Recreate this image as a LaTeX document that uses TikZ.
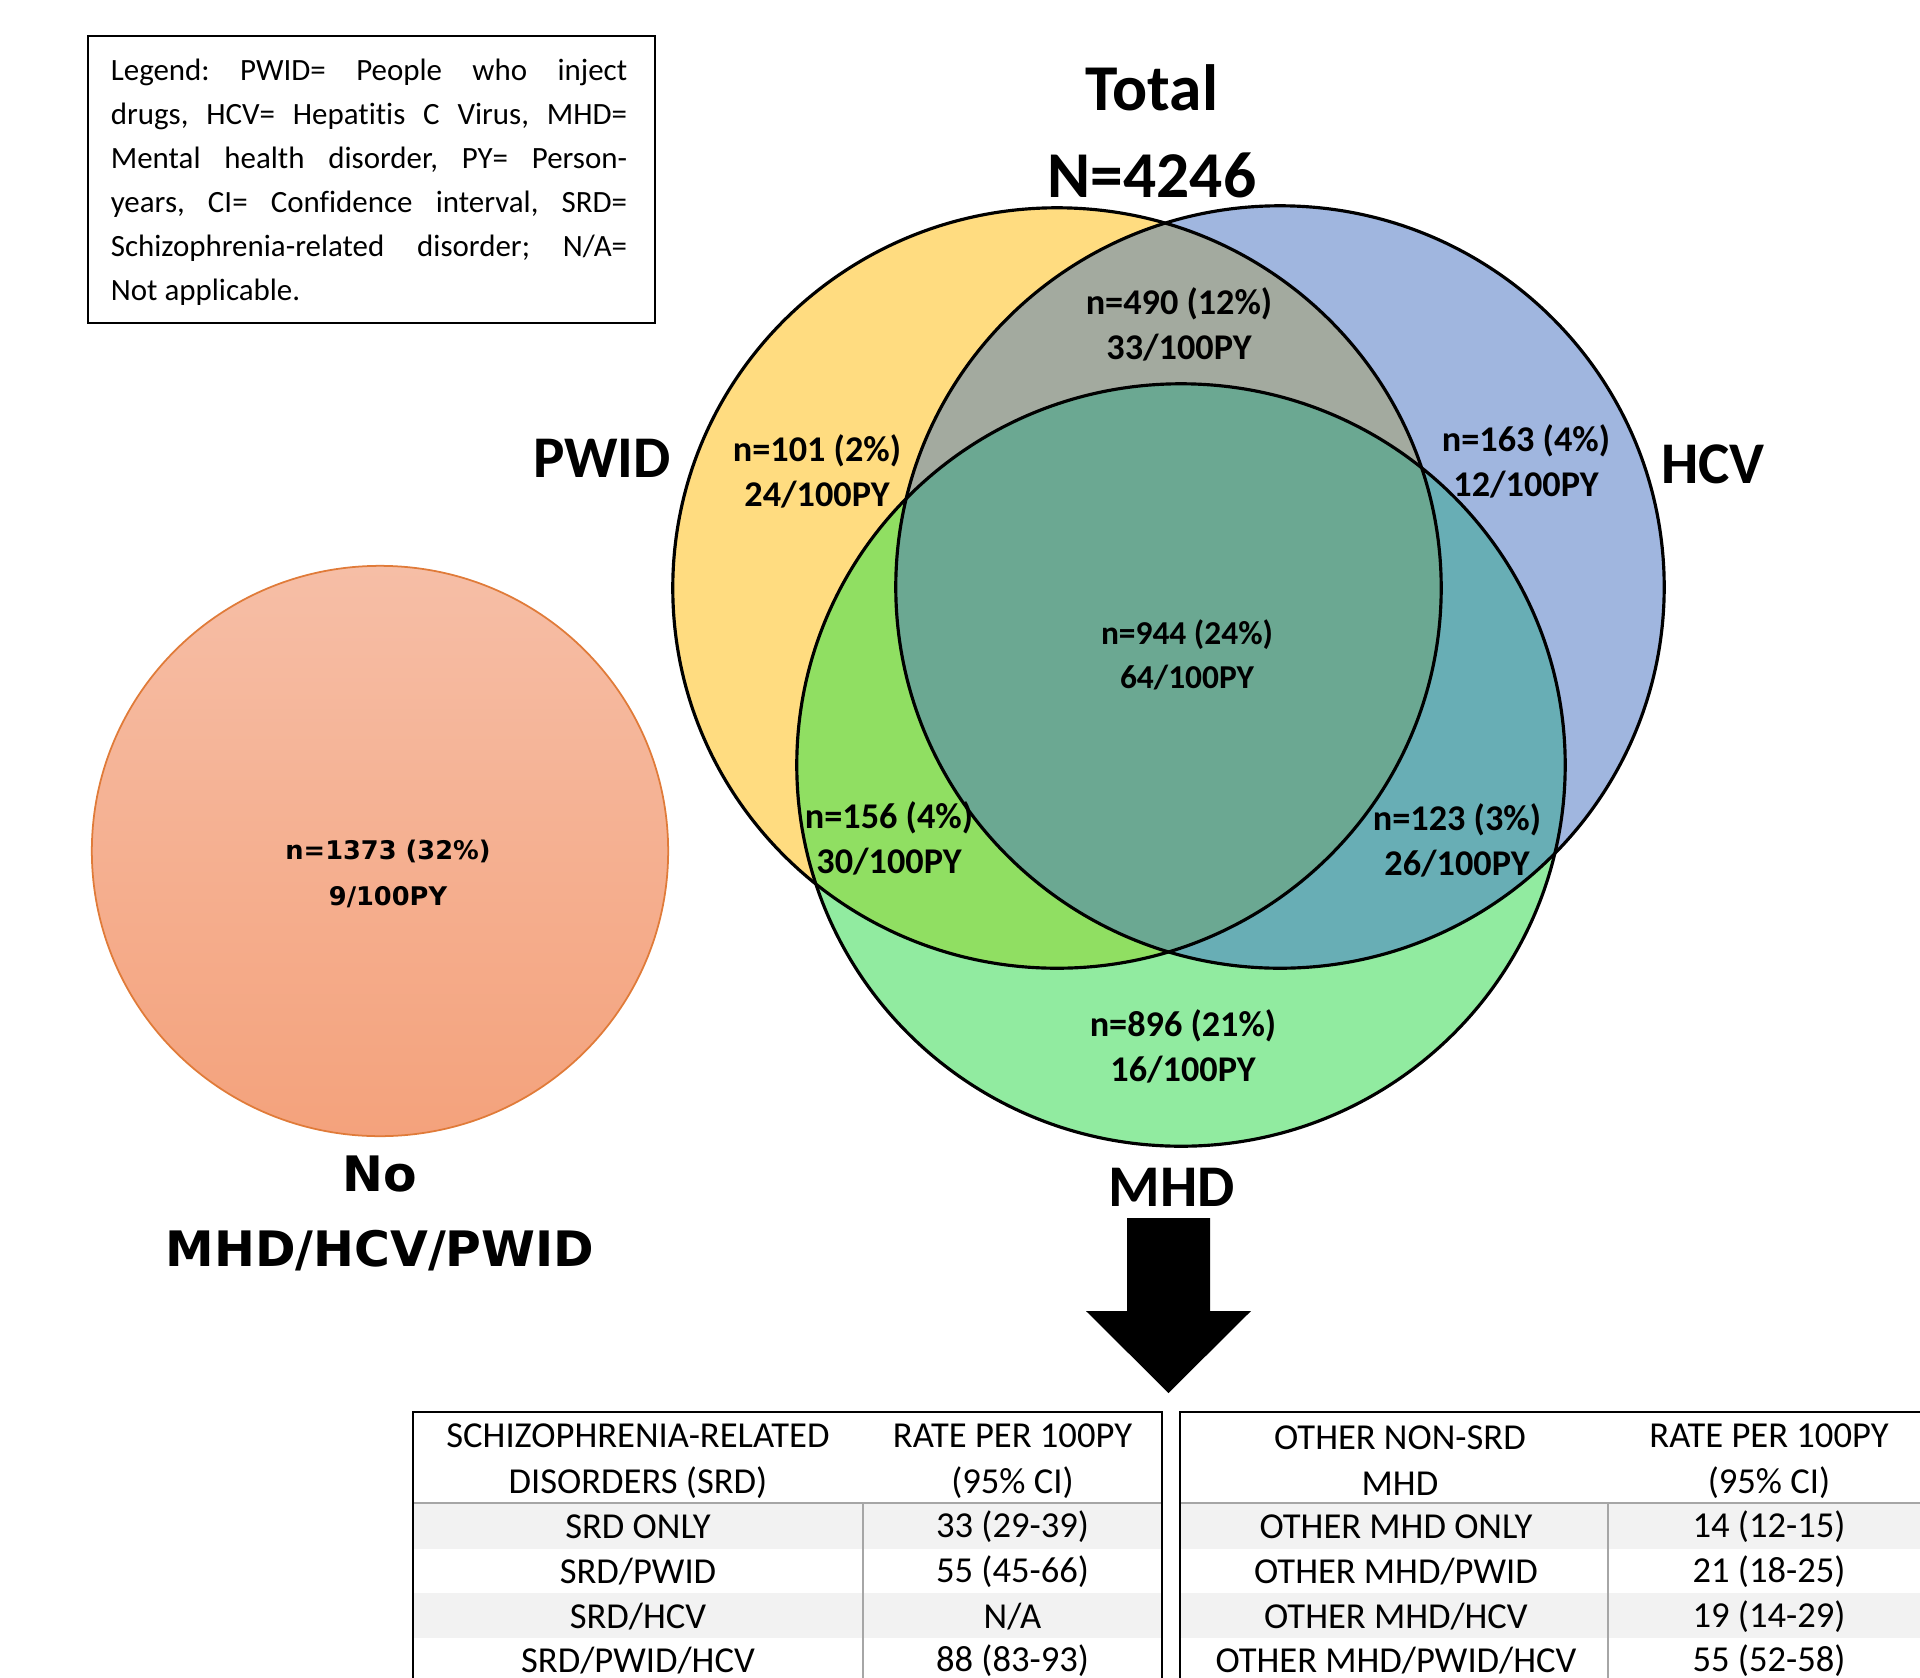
\documentclass[tikz,border=0pt]{standalone}
\usepackage{fontspec}
\setmainfont{Carlito}[Ligatures=NoCommon]
\newfontfamily\widesans{DejaVu Sans}
\frenchspacing

\definecolor{pwidyellow}{HTML}{FFDC80}
\definecolor{hcvblue}{HTML}{A0B6DF}
\definecolor{mhdgreen}{HTML}{91EBA0}
\definecolor{pwidhcv}{HTML}{A3AA9F}
\definecolor{pwidmhd}{HTML}{90DF62}
\definecolor{hcvmhd}{HTML}{68AEB5}
\definecolor{allthree}{HTML}{6BA892}
\definecolor{nonetop}{HTML}{F6BEA6}
\definecolor{nonebottom}{HTML}{F4A27C}
\definecolor{noneedge}{HTML}{E07B39}
\definecolor{rowgray}{HTML}{F2F2F2}
\definecolor{rulegray}{HTML}{A6A6A6}

\tikzset{
  setlabel/.style={font=\fontsize{16.8}{20}\selectfont\bfseries},
  countlabel/.style={align=center, font=\fontsize{10.3}{12.8}\selectfont\bfseries},
  celltext/.style={align=center, font=\fontsize{10.4}{13.1}\selectfont},
  vennedge/.style={black, line width=0.9pt}
}

\def\pwidset{(1057,588) ellipse (3.84cm and 3.80cm)}
\def\hcvset{(1280,587) ellipse (3.84cm and 3.81cm)}
\def\mhdset{(1181,765) ellipse (3.84cm and 3.81cm)}

\begin{document}
\begin{tikzpicture}[x=0.01cm, y=-0.01cm]
    \useasboundingbox (0,0) rectangle (1920,1678);

    % legend
    \draw[line width=0.6pt] (88,36) rectangle (655,323);
    \node[inner sep=0pt, text width=5.16cm, align=justify, font=\fontsize{8.8}{12.5}\selectfont] (legend) at (369,182)
        {Legend: PWID= People who inject\linebreak drugs, HCV= Hepatitis C Virus, MHD=\linebreak
         Mental health disorder, PY= Person-\linebreak years, CI= Confidence interval, SRD=\linebreak
         Schizophrenia-related disorder; N/A=\linebreak Not applicable.};

    % no MHD/HCV/PWID
    \shade[top color=nonetop, bottom color=nonebottom] (380,851) ellipse (2.88cm and 2.85cm);
    \draw[noneedge, line width=0.5pt] (380,851) ellipse (2.88cm and 2.85cm);

    % venn
    \fill[pwidyellow] \pwidset;
    \fill[hcvblue] \hcvset;
    \fill[mhdgreen] \mhdset;
    \begin{scope}
        \clip \pwidset;
        \fill[pwidhcv] \hcvset;
        \fill[pwidmhd] \mhdset;
    \end{scope}
    \begin{scope}
        \clip \hcvset;
        \fill[hcvmhd] \mhdset;
        \clip \pwidset;
        \fill[allthree] \mhdset;
    \end{scope}
    \draw[vennedge] \pwidset;
    \draw[vennedge] \hcvset;
    \draw[vennedge] \mhdset;

    \node[font=\fontsize{18.6}{22}\selectfont\bfseries] (totaltitle) at (1152,88) {Total};
    \node[font=\fontsize{18.6}{22}\selectfont\bfseries] (totaln) at (1152,175) {N=4246};
    \node[setlabel] (pwid) at (602,458) {PWID};
    \node[setlabel] (hcv) at (1713,464) {HCV};
    \node[setlabel] (mhd) at (1172,1187) {MHD};
    \node[font=\fontsize{13.9}{16}\selectfont\widesans\bfseries] (nonetitle) at (380,1174) {No};
    \node[font=\fontsize{13.9}{16}\selectfont\widesans\bfseries] (nonesets) at (380,1251) {MHD/HCV/PWID};

    \node[countlabel] (pwidonly) at (817,471) {n=101 (2\%)\\24/100PY};
    \node[countlabel] (pwidhcvn) at (1179,324) {n=490 (12\%)\\33/100PY};
    \node[countlabel] (hcvonly) at (1526,461) {n=163 (4\%)\\12/100PY};
    \node[countlabel, font=\fontsize{9.5}{12.5}\selectfont\bfseries] (alln) at (1187,655) {n=944 (24\%)\\64/100PY};
    \node[countlabel] (pwidmhdn) at (889,838) {n=156 (4\%)\\30/100PY};
    \node[countlabel] (hcvmhdn) at (1457,840) {n=123 (3\%)\\26/100PY};
    \node[countlabel] (mhdonly) at (1183,1046) {n=896 (21\%)\\16/100PY};
    \node[align=center, font=\fontsize{7.3}{13.1}\selectfont\widesans\bfseries] (nonen) at (388,874) {n=1373 (32\%)\\9/100PY};

    % arrow down to tables
    \fill[black] (1127,1218) -- (1210,1218) -- (1210,1311) -- (1251,1311) -- (1168.5,1393)
        -- (1086,1311) -- (1127,1311) -- cycle;

    % tables
    \foreach \xl/\xm/\xr in {413/863/1162, 1180/1608/1930} {
        \fill[rowgray] (\xl,1504) rectangle (\xr,1548.5);
        \fill[rowgray] (\xl,1593) rectangle (\xr,1638);
        \draw[rulegray, line width=0.8pt] (\xl,1503) -- (\xr,1503);
        \draw[rulegray, line width=0.5pt] (\xm,1504) -- (\xm,1690);
        \draw[black, line width=0.7pt] (\xl,1690) -- (\xl,1412) -- (\xr,1412) -- (\xr,1690);
    }

    \node[celltext] (srdhead) at (638,1461) {SCHIZOPHRENIA-RELATED\\DISORDERS (SRD)};
    \node[celltext] (srdratehead) at (1012.5,1461) {RATE PER 100PY\\(95\% CI)};
    \node[celltext] (srdonly) at (638,1527) {SRD ONLY};
    \node[celltext] (srdonlyrate) at (1012.5,1527) {33 (29-39)};
    \node[celltext] (srdpwid) at (638,1572) {SRD/PWID};
    \node[celltext] (srdpwidrate) at (1012.5,1572) {55 (45-66)};
    \node[celltext] (srdhcv) at (638,1616.5) {SRD/HCV};
    \node[celltext] (srdhcvrate) at (1012.5,1616.5) {N/A};
    \node[celltext] (srdall) at (638,1661) {SRD/PWID/HCV};
    \node[celltext] (srdallrate) at (1012.5,1661) {88 (83-93)};

    \node[celltext] (otherhead) at (1400,1461) {OTHER NON-SRD\\MHD};
    \node[celltext] (otherratehead) at (1769,1461) {RATE PER 100PY\\(95\% CI)};
    \node[celltext] (otheronly) at (1396,1527) {OTHER MHD ONLY};
    \node[celltext] (otheronlyrate) at (1769,1527) {14 (12-15)};
    \node[celltext] (otherpwid) at (1396,1572) {OTHER MHD/PWID};
    \node[celltext] (otherpwidrate) at (1769,1572) {21 (18-25)};
    \node[celltext] (otherhcv) at (1396,1616.5) {OTHER MHD/HCV};
    \node[celltext] (otherhcvrate) at (1769,1616.5) {19 (14-29)};
    \node[celltext] (otherall) at (1396,1661) {OTHER MHD/PWID/HCV};
    \node[celltext] (otherallrate) at (1769,1661) {55 (52-58)};
\end{tikzpicture}
\end{document}
